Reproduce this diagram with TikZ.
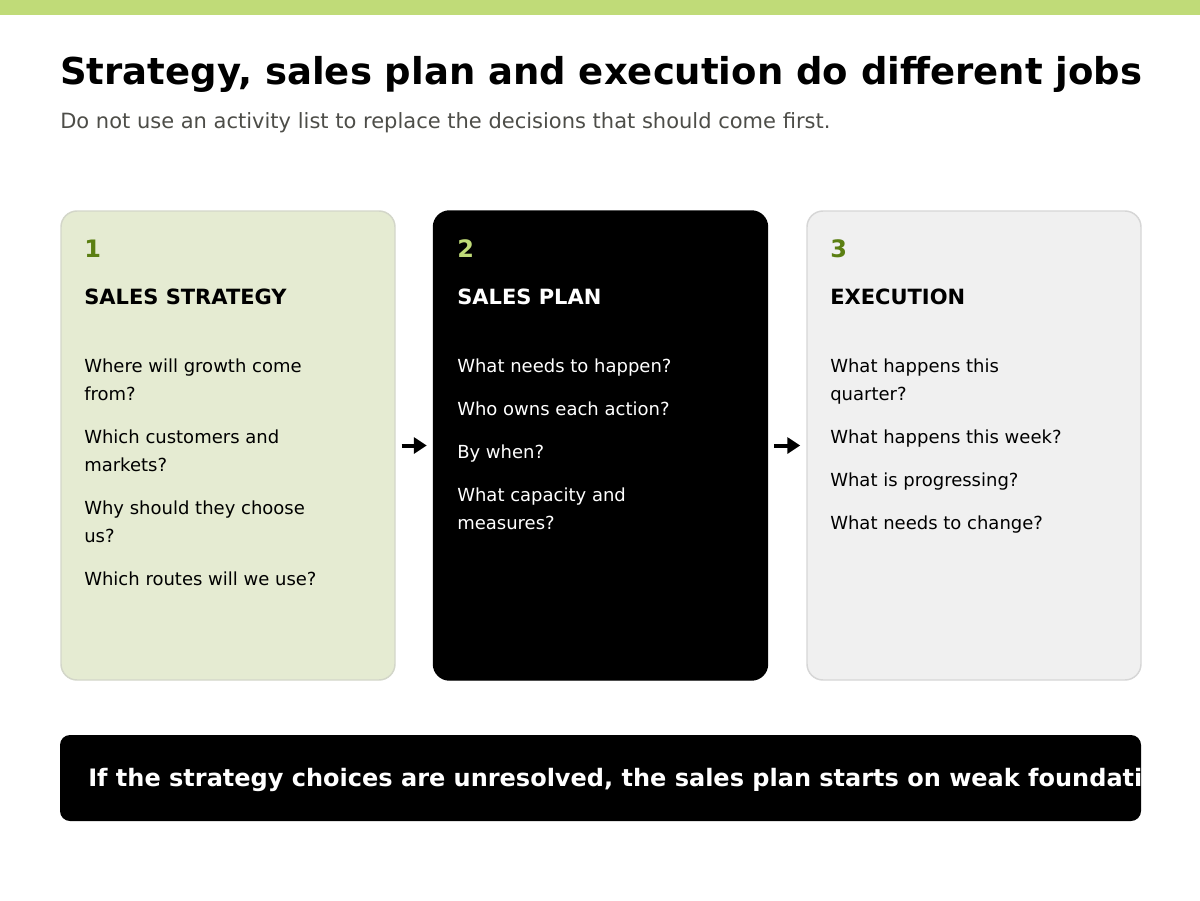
\documentclass[tikz,border=0pt]{standalone}
\usepackage{fontspec}
\setmainfont{DejaVu Sans}
\usetikzlibrary{arrows.meta}
\definecolor{toplime}{HTML}{C0DB78}
\definecolor{numdark}{HTML}{5B7F12}
\definecolor{cardgreen}{HTML}{E5EBD2}
\definecolor{cardgreenline}{HTML}{D3D6C9}
\definecolor{cardgrey}{HTML}{F0F0F0}
\definecolor{cardgreyline}{HTML}{D6D6D6}
\definecolor{subgrey}{HTML}{4D4D48}
\begin{document}
\begin{tikzpicture}[x=0.75pt,y=-0.75pt,
  card/.style={rounded corners=12pt, minimum width=250.5pt, minimum height=351.75pt, inner sep=0pt, line width=1.1pt},
  num/.style={anchor=base west, inner sep=0pt, font=\fontsize{18pt}{22pt}\selectfont\bfseries},
  head/.style={anchor=base west, inner sep=0pt, font=\fontsize{15.75pt}{19pt}\selectfont\bfseries},
  item/.style={anchor=base west, inner sep=0pt, align=left, font=\fontsize{13.5pt}{21pt}\selectfont},
  flow/.style={-{Triangle[length=9.75pt,width=12pt]}, line width=3pt, shorten <=4.5pt, shorten >=4.5pt}
]
\useasboundingbox (0,0) rectangle (1200,900);
\fill[toplime] (0,0) rectangle (1200,15);
\node[anchor=base west, inner sep=0pt, font=\fontsize{27.75pt}{33pt}\selectfont\bfseries] (title) at (60,84) {Strategy, sales plan and execution do different jobs};
\node[anchor=base west, inner sep=0pt, text=subgrey, font=\fontsize{15.75pt}{19pt}\selectfont] (subtitle) at (60,128) {Do not use an activity list to replace the decisions that should come first.};

% cards
\node[card, fill=cardgreen, draw=cardgreenline] (c1) at (228,445.5) {};
\node[card, fill=black, draw=black] (c2) at (600.5,445.5) {};
\node[card, fill=cardgrey, draw=cardgreyline] (c3) at (974,445.5) {};

% card 1 (multi-line nodes are anchored at the baseline of their last line)
\node[num, text=numdark] (n1) at (84,257) {1};
\node[head] (h1) at (84,304) {SALES STRATEGY};
\node[item] (a1) at (84,400) {Where will growth come\\from?};
\node[item] (a2) at (84,471) {Which customers and\\markets?};
\node[item] (a3) at (84,542) {Why should they choose\\us?};
\node[item] (a4) at (84,585) {Which routes will we use?};

% card 2
\node[num, text=toplime] (n2) at (457,257) {2};
\node[head, text=white] (h2) at (457,304) {SALES PLAN};
\node[item, text=white] (b1) at (457,372) {What needs to happen?};
\node[item, text=white] (b2) at (457,415) {Who owns each action?};
\node[item, text=white] (b3) at (457,458) {By when?};
\node[item, text=white] (b4) at (457,529) {What capacity and\\measures?};

% card 3
\node[num, text=numdark] (n3) at (830,257) {3};
\node[head] (h3) at (830,304) {EXECUTION};
\node[item] (e1) at (830,400) {What happens this\\quarter?};
\node[item] (e2) at (830,443) {What happens this week?};
\node[item] (e3) at (830,486) {What is progressing?};
\node[item] (e4) at (830,529) {What needs to change?};

% arrows
\draw[flow] (c1.east) -- (c2.west);
\draw[flow] (c2.east) -- (c3.west);

% banner
\node[fill=black, rounded corners=7.5pt, minimum width=810.75pt, minimum height=64.5pt, inner sep=0pt] (banner) at (600.5,778) {};
\begin{scope}
\clip (banner.south west) rectangle (banner.north east);
\node[anchor=base west, inner sep=0pt, text=white, font=\fontsize{18pt}{22pt}\selectfont\bfseries] (btext) at (88,786) {If the strategy choices are unresolved, the sales plan starts on weak foundations.};
\end{scope}
\end{tikzpicture}
\end{document}
